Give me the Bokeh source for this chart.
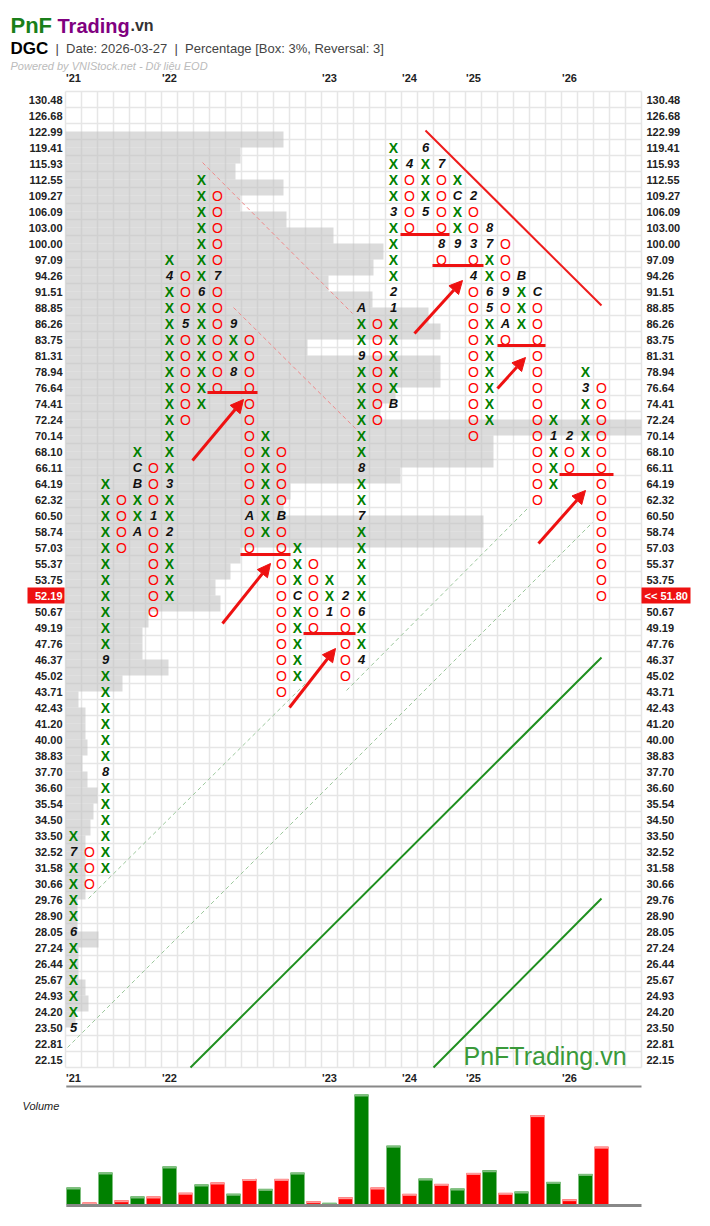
from bokeh.plotting import figure
from bokeh.models import Range1d, Arrow, NormalHead
from bokeh.core.properties import value
from bokeh.embed import file_html
from bokeh.resources import INLINE

# ---------------- data ----------------
PRICE_LEVELS = [130.48, 126.68, 122.99, 119.41, 115.93, 112.55, 109.27, 106.09, 103.00, 100.00,
                97.09, 94.26, 91.51, 88.85, 86.26, 83.75, 81.31, 78.94, 76.64, 74.41,
                72.24, 70.14, 68.10, 66.11, 64.19, 62.32, 60.50, 58.74, 57.03, 55.37,
                53.75, 52.19, 50.67, 49.19, 47.76, 46.37, 45.02, 43.71, 42.43, 41.20,
                40.00, 38.83, 37.70, 36.60, 35.54, 34.50, 33.50, 32.52, 31.58, 30.66,
                29.76, 28.90, 28.05, 27.24, 26.44, 25.67, 24.93, 24.20, 23.50, 22.81, 22.15]

COL_TYPE = ["X", "O", "X", "O", "X", "O", "X", "O", "X", "O", "X", "O", "X", "O", "X", "O", "X",
            "O", "X", "O", "X", "O", "X", "O", "X", "O", "X", "O", "X", "O", "X", "O", "X", "O"]
COL_LOW = [23.50, 30.66, 31.58, 57.03, 58.74, 50.67, 52.19, 72.24, 74.41, 76.64, 78.94, 57.03,
           58.74, 43.71, 45.02, 49.19, 50.67, 45.02, 46.37, 72.24, 74.41, 103.00, 106.09, 97.09,
           100.00, 70.14, 72.24, 83.75, 86.26, 62.32, 64.19, 66.11, 68.10, 52.19]
COL_HIGH = [33.50, 32.52, 64.19, 62.32, 68.10, 66.11, 97.09, 94.26, 112.55, 109.27, 86.26, 83.75,
            70.14, 68.10, 57.03, 55.37, 53.75, 52.19, 88.85, 86.26, 119.41, 115.93, 119.41, 115.93,
            112.55, 109.27, 103.00, 100.00, 94.26, 91.51, 72.24, 70.14, 78.94, 76.64]

MONTH_COL = [0, 0, 0, 2, 2, 4, 4, 4, 5, 6, 6, 6, 7, 8, 9, 10, 10, 11, 13, 14, 16, 17,
             18, 18, 18, 18, 18, 18, 20, 20, 20, 20, 21, 22, 22, 23, 23, 24, 24,
             25, 25, 25, 26, 26, 26, 26, 27, 27, 28, 29, 30, 31, 32]
MONTH_PRICE = [23.50, 28.05, 32.52, 37.70, 46.37, 58.74, 64.19, 66.11, 60.50, 58.74, 64.19, 94.26,
               86.26, 91.51, 94.26, 78.94, 86.26, 60.50, 60.50, 52.19, 50.67, 52.19,
               46.37, 50.67, 60.50, 66.11, 81.31, 88.85, 74.41, 88.85, 91.51, 106.09, 115.93,
               106.09, 119.41, 115.93, 100.00, 100.00, 109.27,
               109.27, 100.00, 94.26, 88.85, 91.51, 100.00, 103.00, 91.51, 86.26, 94.26, 91.51,
               70.14, 70.14, 76.64]
MONTH_TEXT = ["5", "6", "7", "8", "9", "A", "B", "C", "1", "2", "3", "4", "5", "6", "7", "8", "9",
              "A", "B", "C", "1", "2", "4", "6", "7", "8", "9", "A", "B", "1", "2", "3", "4",
              "5", "6", "7", "8", "9", "C", "2", "3", "4", "5", "6", "7", "8", "9", "A", "B", "C",
              "1", "2", "3"]

VOLUME = [51, 6, 96, 13, 24, 24, 114, 35, 60, 66, 32, 77, 47, 77, 96, 10, 5, 22, 331, 51,
          177, 32, 78, 62, 48, 95, 103, 35, 39, 269, 68, 16, 92, 174]

# volume-at-price profile, one value per price level (bin below that level)
PROFILE = [0, 0, 218, 175, 170, 218, 175, 221, 268, 318, 308, 263, 307, 363, 375, 242, 375,
           375, 330, 315, 576, 428, 428, 335, 225, 218, 418, 418, 175, 165, 150, 155, 83, 77,
           77, 103, 57, 13, 20, 20, 22, 17, 22, 32, 28, 25, 20, 20, 20, 20, 12, 12, 33, 13, 13,
           20, 23, 10, 0, 0, 0]

YEAR_TEXT = ["'21", "'22", "'23", "'24", "'25", "'26"]
YEAR_COL = [0, 6, 16, 21, 25, 31]

LAST_BOX = 52.19
LAST_PRICE = 51.80

# ---------------- helpers ----------------
NL = len(PRICE_LEVELS)
NCOLS = 36
FONT = "Liberation Sans"
W, H = 710, 1226


def lvl(pr):
    return NL - 1 - PRICE_LEVELS.index(pr)


def px_x(x):  # pixel -> column units (annotation geometry)
    return (x - 73) / 16.0


def px_y(y):  # pixel -> box units
    return (1059 - y) / 16.0


p = figure(width=W, height=H, x_range=Range1d(px_x(0), px_x(W)),
           y_range=Range1d(px_y(H), px_y(0)),
           min_border=0, min_border_left=0, min_border_right=0, min_border_top=0,
           min_border_bottom=0, x_axis_location=None, y_axis_location=None,
           output_backend="svg", toolbar_location=None)
p.grid.visible = False
p.outline_line_color = None
p.background_fill_color = "white"
p.border_fill_color = "white"

# ---------- grid ----------
vx = [c - 0.5 for c in range(NCOLS + 1)]
p.segment(x0=vx, x1=vx, y0=[-0.5] * len(vx), y1=[NL - 0.5] * len(vx),
          line_color="#e6e6e6", line_width=1.5)
hy = [k - 0.5 for k in range(NL + 1)]
p.segment(x0=[-0.5] * len(hy), x1=[NCOLS - 0.5] * len(hy), y0=hy, y1=hy,
          line_color="#e6e6e6", line_width=1.5)

# ---------- volume profile ----------
prof_k = [lvl(pr) - 0.5 for pr in PRICE_LEVELS]
prof_r = [-0.5 + v / 16.0 for v in PROFILE]
p.hbar(y=prof_k, left=-0.5, right=prof_r, height=1.0, fill_color="#bdbdbd",
       fill_alpha=0.55, line_color=None)

# ---------- trend lines ----------
RED_DASH = [((202, 162), (352, 313)), ((233, 307), (355, 428))]
for (a, b) in RED_DASH:
    p.line([px_x(a[0]), px_x(b[0])], [px_y(a[1]), px_y(b[1])], line_color="#f08a8a",
           line_width=1, line_dash="4 3")
GREEN_DASH = [((67, 1047), (592, 522)), ((88, 898), (305, 683)), ((346, 690), (528, 507))]
for (a, b) in GREEN_DASH:
    p.line([px_x(a[0]), px_x(b[0])], [px_y(a[1]), px_y(b[1])], line_color="#9cc79c",
           line_width=1, line_dash="4 3")
GREEN_SOLID = [((190, 1067), (601, 657)), ((433, 1067), (601, 898))]
for (a, b) in GREEN_SOLID:
    p.line([px_x(a[0]), px_x(b[0])], [px_y(a[1]), px_y(b[1])], line_color="#1f8f1f",
           line_width=2)
p.line([px_x(425), px_x(601)], [px_y(130), px_y(305)], line_color="#ee1c1c", line_width=2)

# ---------- X / O boxes ----------
month_set = set((c, lvl(pr)) for c, pr in zip(MONTH_COL, MONTH_PRICE))
xs_x, xs_y, os_x, os_y = [], [], [], []
for c, (t, lo, hi) in enumerate(zip(COL_TYPE, COL_LOW, COL_HIGH)):
    for k in range(lvl(lo), lvl(hi) + 1):
        if (c, k) in month_set:
            continue
        if t == "X":
            xs_x.append(c); xs_y.append(k)
        else:
            os_x.append(c); os_y.append(k)
p.text(x=xs_x, y=xs_y, text=["X"] * len(xs_x), text_color="#008000",
       text_font=value(FONT), text_font_style="bold", text_font_size="14px",
       text_align="center", text_baseline="middle")
p.text(x=os_x, y=os_y, text=["O"] * len(os_x), text_color="#ff0000",
       text_font=value(FONT), text_font_style="normal", text_font_size="14px",
       text_align="center", text_baseline="middle")
p.text(x=MONTH_COL, y=[lvl(pr) for pr in MONTH_PRICE], text=MONTH_TEXT, text_color="#111111",
       text_font=value(FONT), text_font_style="bold italic", text_font_size="13px",
       text_align="center", text_baseline="middle")

# ---------- underlines & arrows ----------
UNDER = [((207, 257), 392), ((240, 290), 554), ((303, 355), 633), ((400, 449), 234),
         ((432, 483), 265), ((497, 545), 345), ((559, 613), 474)]
for (x0, x1), y in UNDER:
    p.line([px_x(x0), px_x(x1)], [px_y(y), px_y(y)], line_color="#ee1111", line_width=3)
ARROWS = [((192, 460), (243, 399)), ((222, 623), (270, 563)), ((289, 707), (335, 648)),
          ((414, 333), (462, 280)), ((497, 388), (525, 357)), ((538, 543), (585, 490))]
for (a, b) in ARROWS:
    p.add_layout(Arrow(end=NormalHead(size=13, fill_color="#ee1111", line_color="#ee1111"),
                       x_start=px_x(a[0]), y_start=px_y(a[1]), x_end=px_x(b[0]),
                       y_end=px_y(b[1]), line_color="#ee1111", line_width=3))

# ---------- year labels ----------
for yk in (px_y(77), px_y(1077)):
    p.text(x=YEAR_COL, y=[yk] * len(YEAR_COL), text=YEAR_TEXT, text_color="#222222",
           text_font=value(FONT), text_font_style="bold", text_font_size="11px",
           text_align="center", text_baseline="middle")

# ---------- watermark ----------
p.text(x=[px_x(463)], y=[px_y(1055)], text=["PnFTrading.vn"], text_color="#3a9a3a",
       text_font=value(FONT), text_font_size="25px", text_align="left",
       text_baseline="alphabetic")

# ---------- price scale labels (left & right) ----------
lab_k = [lvl(pr) for pr in PRICE_LEVELS if pr != LAST_BOX]
lab_t = ["%.2f" % pr for pr in PRICE_LEVELS if pr != LAST_BOX]
p.text(x=[px_x(62)] * len(lab_k), y=lab_k, text=lab_t, text_color="#222222",
       text_font=value(FONT), text_font_style="bold", text_font_size="11px",
       text_align="right", text_baseline="middle")
p.text(x=[px_x(646)] * len(lab_k), y=lab_k, text=lab_t, text_color="#222222",
       text_font=value(FONT), text_font_style="bold", text_font_size="11px",
       text_align="left", text_baseline="middle")
# last price markers
p.rect(x=[px_x(45.5), px_x(665.5)], y=[lvl(LAST_BOX)] * 2, width=[37 / 16.0, 49 / 16.0],
       height=1.0, fill_color="#ee1111", line_color=None)
p.text(x=[px_x(62)], y=[lvl(LAST_BOX)], text=["%.2f" % LAST_BOX], text_color="white",
       text_font=value(FONT), text_font_style="bold", text_font_size="11px",
       text_align="right", text_baseline="middle")
p.text(x=[px_x(644)], y=[lvl(LAST_BOX)], text=["<< %.2f" % LAST_PRICE], text_color="white",
       text_font=value(FONT), text_font_style="bold", text_font_size="11px",
       text_align="left", text_baseline="middle")

# ---------- volume panel ----------
VOL_BASE_PX = 1204
VOL_SCALE = 110.0 / max(VOLUME)  # px per unit
p.extra_y_ranges = {"vol": Range1d((VOL_BASE_PX - H) / VOL_SCALE,
                                   (VOL_BASE_PX - 0) / VOL_SCALE)}
vcolors = ["#008000" if t == "X" else "#ff0000" for t in COL_TYPE]
capcolors = ["#7fbf7f" if t == "X" else "#ff9a9a" for t in COL_TYPE]
vx_pos = list(range(len(VOLUME)))
p.vbar(x=vx_pos, top=VOLUME, bottom=0, width=0.875, fill_color=vcolors,
       line_color=None, y_range_name="vol")
cap = 2.0 / VOL_SCALE
p.vbar(x=vx_pos, top=VOLUME, bottom=[v - cap for v in VOLUME], width=0.875,
       fill_color=capcolors, line_color=None, y_range_name="vol")
p.line([-0.45, NCOLS - 0.5], [px_y(1086), px_y(1086)], line_color="#888888", line_width=2)
p.line([-0.45, NCOLS - 0.5], [px_y(1205), px_y(1205)], line_color="#888888", line_width=3)
p.text(x=[px_x(22)], y=[px_y(1105)], text=["Volume"], text_color="#222222",
       text_font=value(FONT), text_font_style="italic", text_font_size="11px",
       text_align="left", text_baseline="alphabetic")


# ---------- titles ----------
def title_text(x, y, txt, size, color, style="bold"):
    p.text(x=[px_x(x)], y=[px_y(y)], text=[txt], text_color=color, text_font=value(FONT),
           text_font_style=style, text_font_size=size, text_align="left",
           text_baseline="alphabetic")


NB = "\u00a0"
title_text(10, 25, "PnF", "22px", "#1a7f1a")
title_text(57, 25, "Trading", "20px", "#800080")
title_text(130, 25, ".vn", "16px", "#333333")
title_text(10, 48, "DGC", "17px", "#000000")
title_text(55, 48, "|" + NB * 2 + "Date: 2026-03-27" + NB * 2 + "|" + NB * 2 +
           "Percentage [Box: 3%, Reversal: 3]", "13px", "#444444", "normal")
title_text(10, 65, "Powered by VNIStock.net - Dữ liệu EOD", "11px", "#bbbbbb", "italic")

open("out.html", "w").write(file_html(p, INLINE))
